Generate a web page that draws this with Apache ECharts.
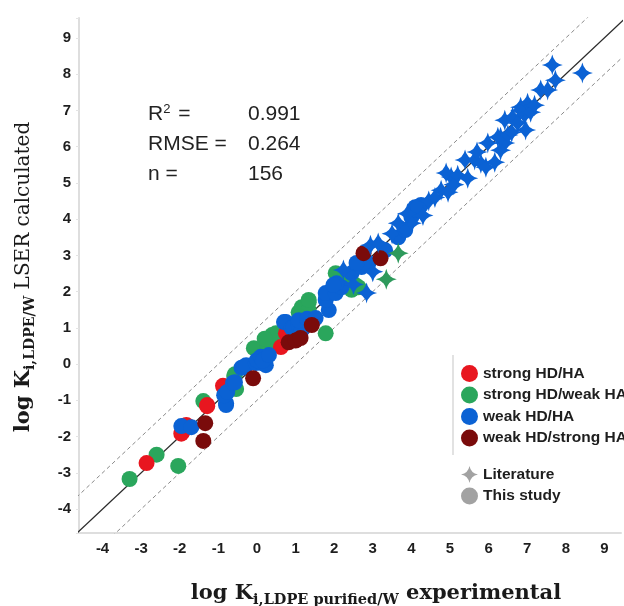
<!DOCTYPE html>
<html>
<head>
<meta charset="utf-8">
<script src="https://cdn.jsdelivr.net/npm/echarts@6/dist/echarts.min.js"></script>
<style>
  html, body { margin: 0; padding: 0; background: #fff; }
</style>
</head>
<body>
<div id="chart" style="width:624px;height:606px;"></div>
<script>
// 实验值 vs LSER 计算值 [x, y]
const strongHdHa = [
  [-2.86, -2.73], [-1.93, -1.87], [-1.96, -1.92], [-1.83, -1.68], [-1.78, -1.72],
  [-1.29, -1.13], [-1.29, -1.16], [-0.88, -0.6], [-0.85, -0.66], [0.62, 0.47],
  [0.75, 0.85], [0.82, 0.74], [1.2, 1.0], [1.34, 1.13], [1.47, 1.21]
];
const strongHdWeakHa = [
  [-3.3, -3.17], [-2.6, -2.5], [-2.04, -2.81], [-1.39, -1.02], [-0.57, -0.28],
  [-0.54, -0.69], [-0.59, -0.33], [-0.08, 0.44], [0.26, 0.44], [0.39, 0.6],
  [0.49, 0.85], [0.39, 0.8], [0.2, 0.7], [1.08, 1.43], [1.16, 1.57],
  [1.34, 1.71], [1.34, 1.49], [1.1, 1.3], [1.78, 0.85], [1.34, 1.77],
  [2.04, 2.51], [2.37, 2.32], [2.55, 2.18], [2.63, 2.12], [2.2, 2.3], [2.45, 2.05]
];
const weakHdHa = [
  [-1.96, -1.71], [-1.7, -1.74], [-0.8, -1.08], [-0.8, -1.13], [-0.85, -0.86],
  [-0.77, -0.77], [-0.62, -0.52], [-0.57, -0.5], [-0.4, -0.1], [-0.33, -0.08],
  [-0.28, -0.03], [-0.03, 0.03], [0.13, 0.03], [0, 0.11], [0.23, -0.03],
  [0.1, 0.2], [0.15, 0.1], [0.31, 0.25], [0.7, 1.16], [0.75, 1.16],
  [0.9, 1.0], [0.95, 1.02], [1.08, 1.08], [1.16, 0.94], [1.08, 1.21],
  [1.3, 1.25], [1.52, 1.27], [1.86, 1.49], [1.8, 1.85], [1.78, 1.77],
  [1.78, 1.96], [2.04, 1.96], [2.19, 2.12], [2.06, 2.23], [1.98, 2.18],
  [2.45, 2.51], [2.71, 2.68], [2.89, 2.79], [2.58, 2.79], [3.32, 3.14],
  [3.66, 3.5], [3.84, 3.7], [4.0, 4.06], [4.1, 4.33], [4.25, 4.39],
  [4.1, 4.25], [4.18, 4.33]
];
const weakHdStrongHa = [
  [-1.34, -1.63], [-1.39, -2.12], [-0.1, -0.39], [0.82, 0.6], [1.0, 0.65],
  [1.13, 0.72], [1.42, 1.08], [2.76, 3.06], [3.2, 2.92]
];
// 文献数据（星形）
const litWeakHdHa = [
  [2.84, 1.96], [2.24, 2.6], [2.5, 2.2], [3.0, 2.55], [2.94, 3.28],
  [3.14, 3.34], [3.5, 3.6], [3.66, 3.89], [4.0, 3.89], [3.9, 4.15],
  [4.3, 4.1], [4.45, 4.5], [4.61, 4.6], [4.77, 4.8], [4.95, 4.74],
  [5.03, 5.16], [4.9, 5.27], [5.1, 4.95], [5.2, 5.21], [5.46, 5.13],
  [5.39, 5.63], [5.64, 5.63], [5.7, 5.85], [5.8, 5.54], [5.93, 5.43],
  [6.16, 5.57], [5.98, 6.1], [6.24, 6.26], [6.42, 6.1], [6.31, 5.9],
  [6.31, 6.26], [6.5, 6.32], [6.6, 6.4], [6.42, 6.73], [6.62, 6.81],
  [6.75, 6.65], [6.83, 7.09], [6.93, 6.87], [6.96, 6.46], [6.83, 7.0],
  [7.01, 7.2], [7.09, 6.95], [7.19, 7.14], [7.35, 7.56], [7.53, 7.56],
  [7.73, 7.83], [7.65, 8.25], [8.43, 8.03]
];
const litStrongHdWeakHa = [[3.66, 3.06], [3.35, 2.34]];

// 1:1 线及 ±1 线
const lineEnds = [-6, 11];
const lineOffsets = [0, 1, -1];

const statLabels = ['R{sup|2} =', 'RMSE =', 'n ='];
const statValues = ['0.991', '0.264', '156'];

const groupNames = ['strong HD/HA', 'strong HD/weak HA', 'weak HD/HA', 'weak HD/strong HA'];
const sourceNames = ['Literature', 'This study'];

const colors = {
  red: '#e8161f',
  green: '#2aa65c',
  blue: '#0b62d4',
  darkred: '#7a0b0b',
  grey: '#a2a2a2'
};
const starPath = 'path://M10,0 Q11.6,8.4 20,10 Q11.6,11.6 10,20 Q8.4,11.6 0,10 Q8.4,8.4 10,0 Z';

const circleSeries = (name, data, color) => ({
  name, type: 'scatter', data, symbol: 'circle', symbolSize: 16,
  itemStyle: { color, opacity: 1 }, z: 3
});
const starSeries = (name, data, color) => ({
  name, type: 'scatter', data, symbol: starPath, symbolSize: 21,
  itemStyle: { color, opacity: 1 }, z: 4
});
const refLine = (off) => ({
  type: 'line', silent: true, symbol: 'none', z: 2,
  data: lineEnds.map(v => [v, v + off]),
  lineStyle: off === 0
    ? { color: '#2a2a2a', width: 1.3 }
    : { color: '#8a8a8a', width: 1, type: [4, 3] }
});

const tickFmt = v => (Number.isInteger(Math.round(v * 1000) / 1000) ? String(Math.round(v)) : '');

const legendText = { color: '#1e1e1e', fontSize: 15.5, fontWeight: 'bold', fontFamily: 'Liberation Sans' };

// 坐标轴标题（带下标）
const xTitleRich = {
  big: { fontSize: 21, fontWeight: 'bold', fontFamily: 'DejaVu Serif', fill: '#1a1a1a' },
  sub: { fontSize: 14.5, fontWeight: 'bold', fontFamily: 'DejaVu Serif', fill: '#1a1a1a', padding: [12, 0, 0, 0] }
};
const yTitleRich = {
  big: { fontSize: 21, fontWeight: 'bold', fontFamily: 'DejaVu Serif', fill: '#1a1a1a' },
  sub: { fontSize: 14, fontWeight: 'bold', fontFamily: 'DejaVu Serif', fill: '#1a1a1a', padding: [12, 0, 0, 0] },
  reg: { fontSize: 20, fontFamily: 'DejaVu Serif', fill: '#1a1a1a' }
};

const option = {
  animation: false,
  grid: { left: 79, top: 18, right: 0, bottom: 73, containLabel: false },
  xAxis: {
    type: 'value', min: -4.61, max: 9.43, splitNumber: 14, minInterval: 1, maxInterval: 1,
    axisLine: { onZero: false, lineStyle: { color: '#dedede', width: 2 } },
    axisTick: { show: false },
    splitLine: { show: false },
    axisLabel: { formatter: tickFmt, color: '#1e1e1e', fontSize: 15, fontWeight: 'bold',
      fontFamily: 'Liberation Sans', margin: 8 }
  },
  yAxis: {
    type: 'value', min: -4.66, max: 9.55, splitNumber: 14, minInterval: 1, maxInterval: 1,
    axisLine: { onZero: false, lineStyle: { color: '#dedede', width: 2 } },
    axisTick: { show: true, length: 3, lineStyle: { color: '#e4e4e4' } },
    splitLine: { show: false },
    axisLabel: { formatter: tickFmt, color: '#1e1e1e', fontSize: 15, fontWeight: 'bold',
      fontFamily: 'Liberation Sans', margin: 8 }
  },
  legend: [
    {
      data: groupNames, orient: 'vertical', left: 456, top: 360,
      itemWidth: 17, itemHeight: 17, itemGap: 4.5, textStyle: legendText
    },
    {
      data: sourceNames, orient: 'vertical', left: 456, top: 461,
      itemWidth: 17, itemHeight: 17, itemGap: 4.5, textStyle: legendText
    }
  ],
  series: [
    ...lineOffsets.map(refLine),
    circleSeries(groupNames[1], strongHdWeakHa, colors.green),
    circleSeries(groupNames[0], strongHdHa, colors.red),
    circleSeries(groupNames[2], weakHdHa, colors.blue),
    circleSeries(groupNames[3], weakHdStrongHa, colors.darkred),
    starSeries('weak HD/HA (lit.)', litWeakHdHa, colors.blue),
    starSeries('strong HD/weak HA (lit.)', litStrongHdWeakHa, '#2e9a5c'),
    starSeries(sourceNames[0], [], colors.grey),
    circleSeries(sourceNames[1], [], colors.grey)
  ],
  graphic: [
    { type: 'line', shape: { x1: 453, y1: 355, x2: 453, y2: 455 }, style: { stroke: '#e2e2e2', lineWidth: 2 } },
    ...statLabels.map((t, i) => ({
      type: 'text', x: 148, y: 114 + i * 30,
      style: { text: t, fill: '#222', font: '21px "Liberation Sans"', verticalAlign: 'middle',
        rich: { sup: { fontSize: 13, fontFamily: 'Liberation Sans', fill: '#222', padding: [0, 2, 10, 0] } } }
    })),
    ...statValues.map((t, i) => ({
      type: 'text', x: 248, y: 114 + i * 30,
      style: { text: t, fill: '#222', font: '21px "Liberation Sans"', verticalAlign: 'middle' }
    })),
    {
      type: 'text', x: 24, y: 277, rotation: Math.PI / 2,
      style: {
        text: '{big|log K}{sub|i,LDPE/W}{reg| LSER calculated}',
        align: 'center', verticalAlign: 'middle', fill: '#1a1a1a', rich: yTitleRich
      }
    },
    {
      type: 'text', x: 376, y: 594,
      style: {
        text: '{big|log K}{sub|i,LDPE purified/W}{big| experimental}',
        align: 'center', verticalAlign: 'middle', fill: '#1a1a1a', rich: xTitleRich
      }
    }
  ]
};

const chart = echarts.init(document.getElementById('chart'));
chart.setOption(option);
</script>
</body>
</html>
